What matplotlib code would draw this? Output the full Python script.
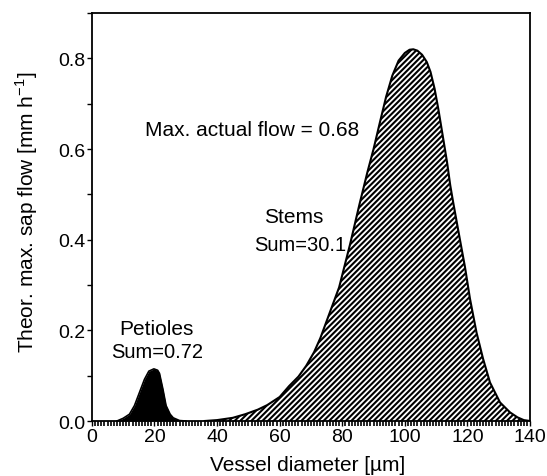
import numpy as np
import matplotlib
matplotlib.use('Agg')
import matplotlib.pyplot as plt
from matplotlib.ticker import MultipleLocator

plt.rcParams['font.family'] = ['Liberation Sans', 'DejaVu Sans']
plt.rcParams['mathtext.fontset'] = 'custom'
plt.rcParams['mathtext.rm'] = 'Liberation Sans'
plt.rcParams['hatch.linewidth'] = 1.5

# petioles: vessel diameter [um] vs theoretical max sap flow
pet_x = [8, 10, 12, 13.6, 15.2, 16.8, 18.2, 19.8, 21, 21.6, 22.7, 23.7, 25, 26, 28, 30]
pet_y = [0, 0.006, 0.015, 0.034, 0.063, 0.092, 0.110, 0.115, 0.112, 0.105, 0.070, 0.034, 0.015, 0.007, 0.001, 0]

# stems
stem_x = [36, 40, 45, 49, 53, 56, 60, 63, 66, 68.5, 71, 73, 76, 79, 82.5, 85.5, 88, 90,
          92, 94, 96, 98, 100, 101.5, 102.7, 104, 105.5, 107, 108.2, 109.5, 110.7, 112.3,
          113.5, 114.5, 115.5, 117.6, 119.2, 120.8, 122.9, 125, 127.2, 130.4, 133.6, 136, 138, 140]
stem_y = [0, 0.002, 0.007, 0.015, 0.025, 0.035, 0.053, 0.077, 0.098, 0.122, 0.152, 0.183,
          0.239, 0.295, 0.390, 0.478, 0.548, 0.600, 0.658, 0.715, 0.762, 0.795, 0.812, 0.819,
          0.820, 0.817, 0.808, 0.792, 0.770, 0.733, 0.688, 0.621, 0.570, 0.520, 0.480, 0.400,
          0.340, 0.270, 0.195, 0.137, 0.085, 0.041, 0.019, 0.008, 0.002, 0]

fig = plt.figure(figsize=(5.47, 4.77), dpi=100)
ax = fig.add_axes([0.168, 0.1153, 0.801, 0.8553])

# stems: hatched area
ax.fill_between(stem_x, stem_y, 0, facecolor='white', edgecolor='black', hatch='//////', linewidth=0)
ax.plot(stem_x, stem_y, color='black', lw=1.5)

# petioles: solid black
ax.fill_between(pet_x, pet_y, 0, color='black', linewidth=0)
ax.plot(pet_x, pet_y, color='black', lw=1.2)

ax.set_xlim(0, 140)
ax.set_ylim(0, 0.9)

ax.xaxis.set_major_locator(MultipleLocator(20))
ax.xaxis.set_minor_locator(MultipleLocator(1))
ax.yaxis.set_major_locator(MultipleLocator(0.2))
ax.yaxis.set_minor_locator(MultipleLocator(0.1))
ax.yaxis.set_major_formatter(matplotlib.ticker.FormatStrFormatter('%.1f'))

ax.tick_params(axis='both', which='both', direction='out', width=1.0, labelsize=14)
ax.tick_params(axis='x', which='both', length=3.5, pad=1.5)
ax.tick_params(axis='x', which='minor', width=1.2)
ax.tick_params(axis='y', which='both', length=3.5, pad=1)
ax.tick_params(top=False, right=False)

for sp in ax.spines.values():
    sp.set_linewidth(1.3)

ax.set_xlabel('Vessel diameter [µm]', fontsize=15)
ax.set_ylabel('Theor. max. sap flow [mm h$^{\\mathregular{-1}}$]', fontsize=15)
ax.xaxis.set_label_coords(0.493, -0.083)
ax.yaxis.set_label_coords(-0.119, 0.515)

ax.text(51.3, 0.643, 'Max. actual flow = 0.68', fontsize=15, ha='center', va='center')
ax.text(64.5, 0.451, 'Stems', fontsize=15, ha='center', va='center')
ax.text(66.6, 0.390, 'Sum=30.1', fontsize=14.5, ha='center', va='center')
ax.text(20.6, 0.203, 'Petioles', fontsize=15, ha='center', va='center')
ax.text(20.7, 0.153, 'Sum=0.72', fontsize=14.5, ha='center', va='center')

fig.savefig('out.png', dpi=100)
